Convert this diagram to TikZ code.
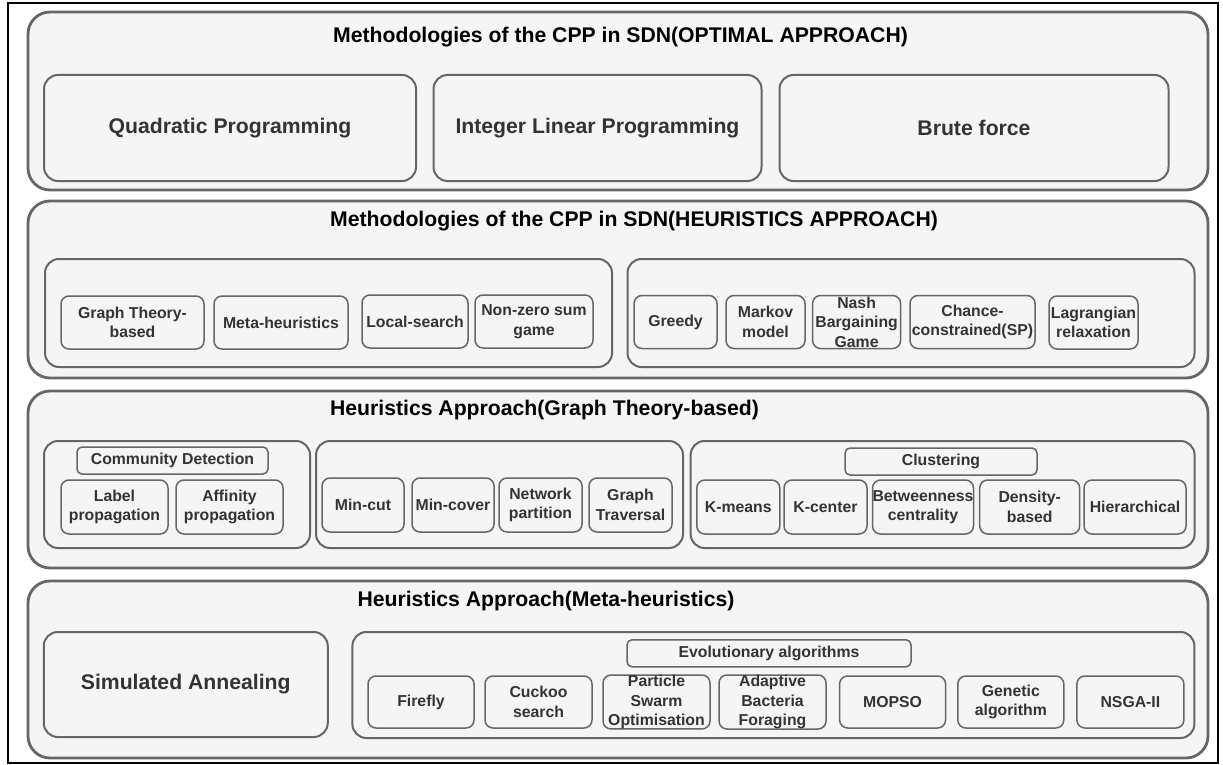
\documentclass[tikz,border=0pt]{standalone}
\usepackage{fontspec}
\setmainfont{Liberation Sans}
\definecolor{boxfill}{HTML}{F5F5F5}
\definecolor{boxline}{HTML}{666666}
\definecolor{boxtext}{HTML}{333333}

\begin{document}
\begin{tikzpicture}[x=1pt,y=-1pt,
    band/.style={draw=boxline,fill=boxfill,line width=2.8pt,rounded corners=22pt,inner sep=0pt},
    group/.style={draw=boxline,fill=boxfill,line width=2pt,rounded corners=14pt,inner sep=0pt},
    bigbox/.style={group,text=boxtext,font=\bfseries\fontsize{21.2}{25}\selectfont},
    item/.style={draw=boxline,fill=boxfill,line width=1.5pt,rounded corners=8pt,inner sep=0pt,
      align=center,text=boxtext,font=\bfseries\fontsize{15.8}{19.6}\selectfont},
    header/.style={item,rounded corners=5pt},
    title/.style={text=black,font=\bfseries\fontsize{21.2}{25}\selectfont}]
      \useasboundingbox (0,0) rectangle (1223,765);
      \fill[white] (0,0) rectangle (1223,765);
      \node[draw=black,line width=1.5pt,inner sep=0pt,minimum width=1210,minimum height=760] (frame) at (613,383) {};

      \node[band,minimum width=1180,minimum height=178] (optimal) at (618,101) {};
      \node[title] (optimaltitle) at (620.5,37) {Methodologies of the CPP in SDN(OPTIMAL APPROACH)};
      \node[bigbox,minimum width=372,minimum height=106] (qp) at (230,128) {Quadratic Programming};
      \node[bigbox,minimum width=328,minimum height=106] (ilp) at (597.5,128) {Integer Linear Programming};
      \node[bigbox,minimum width=389,minimum height=106] (brute) at (974,128) {Brute force};

      \node[band,minimum width=1180,minimum height=177] (heuristics) at (618,289.5) {};
      \node[title] (heuristicstitle) at (634,221) {Methodologies of the CPP in SDN(HEURISTICS APPROACH)};
      \node[group,minimum width=567,minimum height=108] (heurleft) at (328.5,313) {};
      \node[group,minimum width=567,minimum height=108] (heurright) at (911,313) {};
      \node[item,minimum width=143,minimum height=53] (graphbased) at (132.5,322.5) {Graph Theory-\\based};
      \node[item,minimum width=134,minimum height=53] (metaheur) at (281,322.5) {Meta-heuristics};
      \node[item,minimum width=106,minimum height=53] (localsearch) at (415,321.5) {Local-search};
      \node[item,minimum width=118,minimum height=53] (nonzero) at (534,321.5) {Non-zero sum\\game};
      \node[item,minimum width=83,minimum height=53] (greedy) at (675.5,322) {Greedy};
      \node[item,minimum width=79,minimum height=53] (markov) at (765.5,322) {Markov\\model};
      \node[item,minimum width=88,minimum height=53] (nash) at (856.6,322) {Nash\\Bargaining\\Game};
      \node[item,minimum width=125,minimum height=53] (chance) at (972.5,322) {Chance-\\constrained(SP)};
      \node[item,minimum width=89,minimum height=53] (lagrange) at (1093.5,322.5) {Lagrangian\\relaxation};

      \node[band,minimum width=1180,minimum height=177] (graphtheory) at (618,479.5) {};
      \node[title] (graphtheorytitle) at (544.5,410) {Heuristics Approach(Graph Theory-based)};
      \node[group,minimum width=266,minimum height=107] (communitygroup) at (177,494.5) {};
      \node[header,minimum width=191,minimum height=27] (community) at (172.5,460.5) {Community Detection};
      \node[item,minimum width=107,minimum height=54] (labelprop) at (114.5,507) {Label\\propagation};
      \node[item,minimum width=107,minimum height=54] (affinity) at (229.5,507) {Affinity\\propagation};
      \node[group,minimum width=367,minimum height=107] (cutgroup) at (499.5,494.5) {};
      \node[item,minimum width=82,minimum height=54] (mincut) at (363,505) {Min-cut};
      \node[item,minimum width=82,minimum height=54] (mincover) at (453,505) {Min-cover};
      \node[item,minimum width=83,minimum height=54] (netpart) at (540.5,505) {Network\\partition};
      \node[item,minimum width=83,minimum height=54] (traversal) at (630.5,505) {Graph\\Traversal};
      \node[group,minimum width=504,minimum height=107] (clustergroup) at (942.6,494.5) {};
      \node[header,minimum width=192,minimum height=27] (clustering) at (941,461.5) {Clustering};
      \node[item,minimum width=83,minimum height=54] (kmeans) at (738.3,507) {K-means};
      \node[item,minimum width=83,minimum height=54] (kcenter) at (825.5,507) {K-center};
      \node[item,minimum width=101,minimum height=54] (betweenness) at (923,507) {Betweenness\\centrality};
      \node[item,minimum width=100,minimum height=54] (density) at (1029.7,507) {Density-\\based};
      \node[item,minimum width=102,minimum height=54] (hierarchical) at (1135,507) {Hierarchical};

      \node[band,minimum width=1180,minimum height=177] (metaband) at (618,669.5) {};
      \node[title] (metatitle) at (546,601) {Heuristics Approach(Meta-heuristics)};
      \node[bigbox,minimum width=284,minimum height=105] (annealing) at (185.75,684.5) {Simulated Annealing};
      \node[group,minimum width=842,minimum height=106] (evogroup) at (773.4,685) {};
      \node[header,minimum width=284,minimum height=27] (evolutionary) at (769,653.3) {Evolutionary algorithms};
      \node[item,minimum width=106,minimum height=52] (firefly) at (421,702) {Firefly};
      \node[item,minimum width=107,minimum height=52] (cuckoo) at (538.5,702) {Cuckoo\\search};
      \node[item,minimum width=107,minimum height=52] (pso) at (656.5,702) {Particle\\Swarm\\Optimisation};
      \node[item,minimum width=107,minimum height=52] (bacteria) at (772.5,702) {Adaptive\\Bacteria\\Foraging};
      \node[item,minimum width=106,minimum height=52] (mopso) at (892.6,702) {MOPSO};
      \node[item,minimum width=106,minimum height=52] (genetic) at (1010.8,702) {Genetic\\algorithm};
      \node[item,minimum width=107,minimum height=52] (nsga) at (1130.4,702) {NSGA-II};

    \end{tikzpicture}
\end{document}
